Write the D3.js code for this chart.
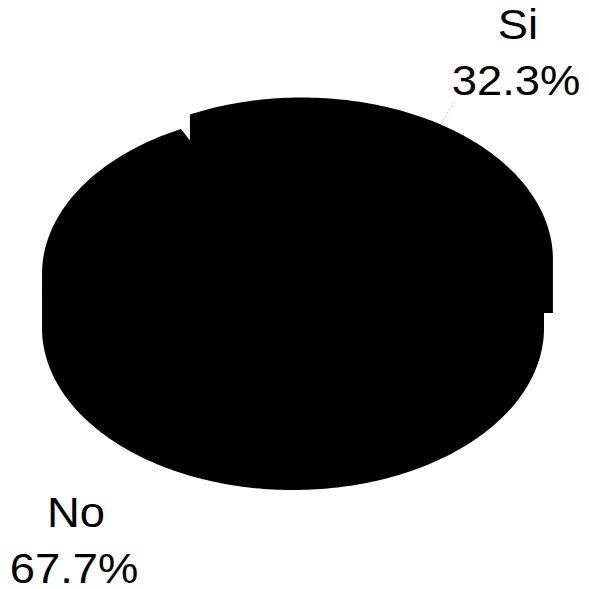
<!DOCTYPE html>
<html>
<head>
<meta charset="utf-8">
<script src="https://cdn.jsdelivr.net/npm/d3@7"></script>
<style>
  html, body { margin: 0; padding: 0; background: #ffffff; }
  svg { display: block; }
  text { font-family: "Liberation Sans", Arial, Helvetica, sans-serif; fill: #000; }
</style>
</head>
<body>
<svg id="chart" width="589" height="589"></svg>
<script>
// Survey answers
const categories = ["Si", "No"];
const values = [32.3, 67.7];
const valueLabels = ["32.3%", "67.7%"];
// how far each slice is pulled out of the pie
const explode = [17, 0];

// geometry of the tilted pie
const W = 589, H = 589;
const cx = 293, cy = 274;     // centre of the top face
const rx = 251, ry = 162;     // radii of the top face ellipse
const depth = 54;             // thickness of the pie
const startDeg = -26.5;       // where the first slice begins (clockwise from 12 o'clock)

// label anchors (centre of each text block) and line spacing
const labelPos = [[518, 39], [76, 527]];
const lineGap = 56;
const fontSize = 42, stretchX = 1.08;

const svg = d3.select("#chart");
svg.append("rect").attr("width", W).attr("height", H).attr("fill", "#ffffff");

const data = categories.map((c, i) => ({ name: c, value: values[i], label: valueLabels[i], explode: explode[i] }));

const toRad = d => d * Math.PI / 180;
const pie = d3.pie()
  .sort(null)
  .value(d => d.value)
  .startAngle(toRad(startDeg))
  .endAngle(toRad(startDeg) + 2 * Math.PI);

const arcs = pie(data);

// projection of a pie angle onto the ellipse
const px = t => cx + rx * Math.sin(t);
const py = t => cy - ry * Math.cos(t);

function arcPoints(a0, a1) {
  const n = Math.max(8, Math.ceil(Math.abs(a1 - a0) / toRad(1)));
  return d3.range(n + 1).map(i => {
    const t = a0 + (a1 - a0) * i / n;
    return [px(t), py(t)];
  });
}

// give every polygon the same winding so that one nonzero-filled path is their union
function oriented(poly) {
  return d3.polygonArea(poly) < 0 ? poly.slice().reverse() : poly;
}

function slicePolygons(a) {
  const mid = (a.startAngle + a.endAngle) / 2;
  const ox = a.data.explode * Math.sin(mid);
  const oy = -a.data.explode * Math.cos(mid);
  const pts = arcPoints(a.startAngle, a.endAngle).map(p => [p[0] + ox, p[1] + oy]);
  const c = [cx + ox, cy + oy];
  const down = p => [p[0], p[1] + depth];
  const first = pts[0], last = pts[pts.length - 1];
  const polys = [];
  // bottom face
  polys.push([c, ...pts].map(down));
  // outer wall, one strip per arc segment
  for (let i = 0; i < pts.length - 1; i++) {
    polys.push([pts[i], pts[i + 1], down(pts[i + 1]), down(pts[i])]);
  }
  // radial walls
  polys.push([c, first, down(first), down(c)]);
  polys.push([c, last, down(last), down(c)]);
  // top face
  polys.push([c, ...pts]);
  return polys.map(oriented).filter(p => Math.abs(d3.polygonArea(p)) > 1e-6);
}

const toPath = poly => "M" + poly.map(p => p[0].toFixed(2) + "," + p[1].toFixed(2)).join("L") + "Z";

svg.append("g").attr("class", "slices")
  .selectAll("path")
  .data(arcs)
  .join("path")
  .attr("class", d => "slice slice-" + d.data.name)
  .attr("d", d => slicePolygons(d).map(toPath).join(""))
  .attr("fill", "#000")
  .attr("fill-rule", "nonzero");

// faint leader marks
const line = d3.line();
const leaders = [[[441, 124], [454, 102]], [[152, 471], [155, 467]]];
svg.append("g").selectAll("path")
  .data(leaders)
  .join("path")
  .attr("d", d => line(d))
  .attr("stroke", "#c4c4c4")
  .attr("stroke-width", 1)
  .attr("stroke-dasharray", "2,2")
  .attr("fill", "none");

// labels: category name over percentage
const labels = svg.append("g").attr("class", "labels");
arcs.forEach((a, i) => {
  const [lx, ly] = labelPos[i];
  const g = labels.append("g")
    .attr("transform", `translate(${lx},0) scale(${stretchX},1)`);
  g.append("text")
    .attr("x", 0).attr("y", ly)
    .attr("text-anchor", "middle")
    .attr("font-size", fontSize)
    .text(a.data.name);
  g.append("text")
    .attr("x", -2 / stretchX).attr("y", ly + lineGap)
    .attr("text-anchor", "middle")
    .attr("font-size", fontSize)
    .text(a.data.label);
});
</script>
</body>
</html>
